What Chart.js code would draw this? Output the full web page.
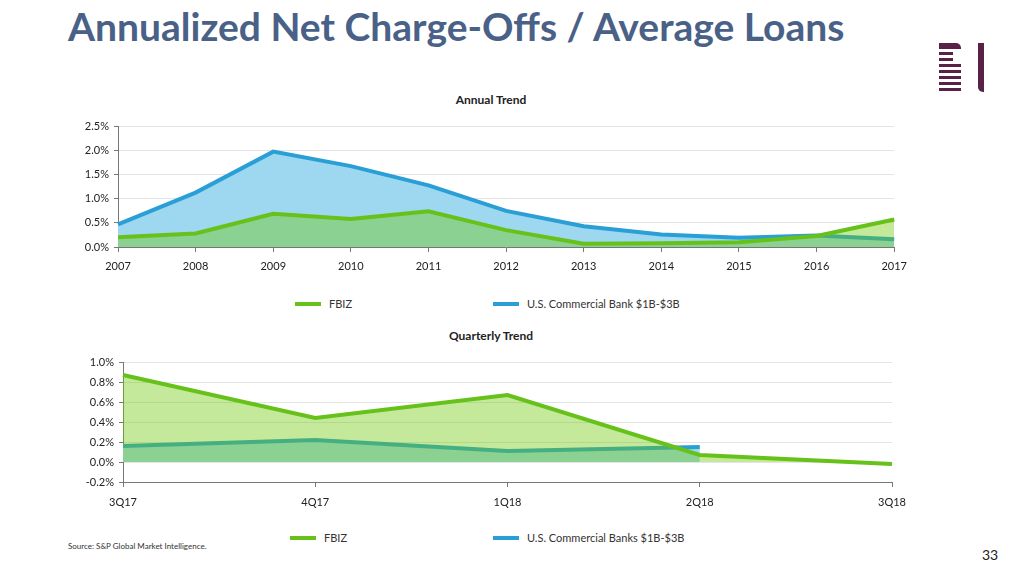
<!DOCTYPE html>
<html>
<head>
<meta charset="utf-8">
<script src="https://cdn.jsdelivr.net/npm/chart.js@4"></script>
<style>
    body { margin: 0; width: 1024px; height: 576px; background: #fff; position: relative; overflow: hidden; font-family: Lato, 'Open Sans', sans-serif; }
    .title { position: absolute; left: 68px; top: 3px; font-size: 39px; font-weight: bold; color: #4a6187; white-space: nowrap; }
    .sub { position: absolute; width: 200px; text-align: center; font-size: 12px; font-weight: bold; color: #222; }
    .box { position: absolute; }
    .legend { position: absolute; font-size: 11px; color: #333; display: flex; align-items: center; }
    .legend span.sw { display: inline-block; width: 26px; height: 4px; margin-right: 8px; }
    .src { position: absolute; left: 68px; top: 541px; font-size: 8px; color: #333; }
    .page { position: absolute; left: 982px; top: 546px; font-size: 14px; color: #222; }
    .logo div { position: absolute; background: #5a2148; }
</style>
</head>
<body>
<div class="title">Annualized Net Charge-Offs / Average Loans</div>

<div class="logo">
    <div style="left:939px; top:43px; width:22px; height:6px; border-radius:0 5px 0 0;"></div>
    <div style="left:939px; top:52px; width:14px; height:3px;"></div>
    <div style="left:939px; top:58px; width:14px; height:3px;"></div>
    <div style="left:939px; top:64px; width:22px; height:3px;"></div>
    <div style="left:939px; top:70px; width:22px; height:3px;"></div>
    <div style="left:939px; top:76px; width:22px; height:3px;"></div>
    <div style="left:939px; top:82px; width:22px; height:3px;"></div>
    <div style="left:939px; top:88px; width:22px; height:3px;"></div>
    <div style="left:978px; top:43px; width:6px; height:49px; border-radius:0 0 0 5px;"></div>
</div>

<div class="sub" style="left:391px; top:92px;">Annual Trend</div>
<div class="box" style="left:60px; top:115px; width:855px; height:165px;"><canvas id="chart-annual"></canvas></div>
<div class="legend" style="left:295px; top:297px;"><span class="sw" style="background:#66c21a"></span>FBIZ</div>
<div class="legend" style="left:493px; top:297px;"><span class="sw" style="background:#2a9fd6"></span>U.S. Commercial Bank $1B-$3B</div>

<div class="sub" style="left:391px; top:328px;">Quarterly Trend</div>
<div class="box" style="left:60px; top:350px; width:855px; height:165px;"><canvas id="chart-quarterly"></canvas></div>
<div class="legend" style="left:290px; top:531px;"><span class="sw" style="background:#66c21a"></span>FBIZ</div>
<div class="legend" style="left:493px; top:531px;"><span class="sw" style="background:#2a9fd6"></span>U.S. Commercial Banks $1B-$3B</div>

<div class="src">Source: S&amp;P Global Market Intelligence.</div>
<div class="page">33</div>

<script>
// Annual trend data (%)
const years = ['2007', '2008', '2009', '2010', '2011', '2012', '2013', '2014', '2015', '2016', '2017'];
const fbizAnnual = [0.20, 0.28, 0.69, 0.58, 0.74, 0.35, 0.07, 0.08, 0.10, 0.23, 0.57];
const banksAnnual = [0.47, 1.13, 1.98, 1.68, 1.28, 0.75, 0.43, 0.26, 0.19, 0.24, 0.16];

// Quarterly trend data (%)
const quarters = ['3Q17', '4Q17', '1Q18', '2Q18', '3Q18'];
const fbizQuarterly = [0.87, 0.44, 0.67, 0.07, -0.02];
const banksQuarterly = [0.16, 0.22, 0.11, 0.15, null];

const greenLine = '#66c21a';
const greenFill = 'rgba(110, 200, 5, 0.4)';
const blueLine = '#2a9fd6';
const blueFill = '#9dd7f0';
const tickFont = { family: 'Lato, sans-serif', size: 11 };

function pct(v) {
    const r = Math.abs(v) < 1e-9 ? 0 : v;
    return r.toFixed(1) + '%';
}

function makeChart(id, labels, fbiz, banks, yMin, yMax, step, yWidth, pad, xPad) {
    const ctx = document.getElementById(id).getContext('2d');
    return new Chart(ctx, {
        type: 'line',
        data: {
            labels: labels,
            datasets: [
                {
                    label: 'FBIZ',
                    data: fbiz,
                    borderColor: greenLine,
                    backgroundColor: greenFill,
                    borderWidth: 4,
                    pointRadius: 0,
                    fill: 'origin'
                },
                {
                    label: 'U.S. Commercial Banks $1B-$3B',
                    data: banks,
                    borderColor: blueLine,
                    backgroundColor: blueFill,
                    borderWidth: 4,
                    pointRadius: 0,
                    fill: 'origin',
                    spanGaps: false
                }
            ]
        },
        options: {
            responsive: true,
            maintainAspectRatio: false,
            animation: false,
            layout: { padding: pad },
            plugins: { legend: { display: false }, tooltip: { enabled: false } },
            scales: {
                x: {
                    grid: { drawOnChartArea: false, tickLength: 5, tickColor: '#777' },
                    border: { color: '#777' },
                    ticks: { color: '#222', font: tickFont, padding: xPad, maxRotation: 0 },
                    afterFit: s => { s.height = 33; }
                },
                y: {
                    min: yMin,
                    max: yMax,
                    grid: { color: '#e4e4e4', tickLength: 4, tickColor: '#777' },
                    border: { color: '#777' },
                    ticks: {
                        stepSize: step,
                        color: '#222',
                        font: tickFont,
                        padding: 5,
                        callback: pct
                    },
                    afterFit: s => { s.width = yWidth; }
                }
            }
        }
    });
}

makeChart('chart-annual', years, fbizAnnual, banksAnnual, 0, 2.5, 0.5, 58, { top: 11, right: 12 }, 8);
makeChart('chart-quarterly', quarters, fbizQuarterly, banksQuarterly, -0.2, 1.0, 0.2, 63, { top: 12, right: 12 }, 9);
</script>
</body>
</html>
